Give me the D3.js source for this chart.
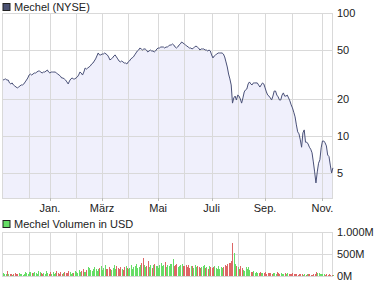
<!DOCTYPE html>
<meta charset="utf-8">
<style>
    body {
        margin: 0;
        background: #fff;
    }
    svg {
        display: block;
        font-family: "Liberation Sans", Arial, sans-serif;
        font-size: 11px;
    }
    .grid line,
    .frame {
        stroke: #d9d9d9;
        shape-rendering: crispEdges;
    }
    .label {
        fill: #222;
    }
</style>

<body>
<div id="chart"></div>
<script src="https://cdnjs.cloudflare.com/ajax/libs/d3/7.8.5/d3.min.js"></script>
<script>
    // daily closes (USD), trading days from mid Nov 2007 to mid Nov 2008
    var prices = [
        28.5, 28.8, 29.1, 28.5, 28.5, 27.0, 26.5, 27.0, 26.0, 25.5,
        25.0, 24.6, 25.0, 25.5, 26.0, 26.0, 26.5, 27.5, 28.5, 29.6,
        31.3, 31.9, 31.3, 31.9, 32.5, 32.5, 33.1, 33.7, 33.7, 33.1,
        32.5, 33.1, 33.1, 33.7, 34.4, 33.1, 32.5, 33.1, 33.1, 33.1,
        33.1, 32.5, 31.9, 31.3, 30.7, 29.6, 29.6, 29.1, 28.5, 27.5,
        26.5, 28.0, 29.1, 29.6, 29.1, 29.1, 29.6, 30.2, 31.3, 33.1,
        32.5, 31.3, 33.1, 35.7, 35.0, 35.7, 36.4, 37.1, 38.5, 39.2,
        40.7, 42.3, 44.7, 47.3, 45.6, 45.6, 46.4, 46.4, 47.3, 46.4,
        45.6, 43.9, 41.5, 42.3, 43.1, 44.7, 45.6, 43.9, 42.3, 40.7,
        40.0, 40.7, 40.0, 39.2, 39.2, 38.5, 40.0, 40.7, 42.3, 43.1,
        43.9, 45.6, 47.3, 49.1, 50.0, 51.9, 51.0, 50.0, 51.0, 51.0,
        50.0, 48.2, 49.1, 50.0, 49.1, 49.1, 48.2, 49.1, 51.0, 51.9,
        51.9, 52.9, 52.9, 52.9, 51.9, 52.9, 52.9, 53.9, 54.9, 54.9,
        56.0, 54.9, 52.9, 51.9, 52.9, 54.9, 56.0, 58.1, 57.1, 56.0,
        54.9, 53.9, 52.9, 51.9, 51.9, 51.0, 51.9, 52.9, 53.9, 52.9,
        51.9, 50.0, 51.0, 51.0, 51.0, 50.0, 50.0, 49.1, 50.0, 49.1,
        45.6, 43.1, 44.7, 45.6, 46.4, 47.3, 47.3, 47.3, 47.3, 46.4,
        43.9, 40.0, 36.4, 31.9, 29.1, 26.0, 18.5, 20.4, 21.1, 19.6,
        21.5, 21.1, 20.0, 18.5, 20.4, 22.8, 23.7, 24.1, 26.5, 27.5,
        26.5, 26.0, 27.0, 27.0, 27.0, 27.0, 26.0, 25.0, 26.0, 27.0,
        26.5, 24.6, 22.8, 21.5, 21.1, 20.4, 19.6, 21.1, 23.2, 23.2,
        21.5, 20.8, 19.6, 19.6, 21.5, 22.4, 21.1, 21.1, 21.5, 20.4,
        19.3, 17.9, 16.9, 15.6, 14.3, 12.3, 10.8, 10.4, 9.3, 8.1,
        10.6, 11.2, 8.9, 8.9, 8.6, 8.1, 7.8, 7.3, 6.15, 5.1,
        4.15, 5.1, 6.0, 6.4, 8.0, 9.1, 9.1, 8.8, 8.3, 7.0,
        6.8, 5.8, 5.0, 5.5
    ];

    // daily volume in million USD
    var volumes = [
        60, 45, 50, 110, 40, 35, 55, 30, 45, 60, 40, 35, 70, 50, 45, 30, 55, 80, 60, 50,
        90, 100, 75, 60, 85, 70, 50, 110, 95, 60, 55, 70, 40, 120, 60, 50, 80, 45, 90, 55,
        70, 105, 60, 45, 80, 50, 65, 95, 70, 60, 120, 85, 50, 75, 60, 110, 90, 65, 130, 100,
        120, 150, 95, 80, 140, 200, 180, 130, 110, 160, 210, 170, 120, 150, 190, 230, 140, 180, 260, 150,
        170, 200, 150, 130, 180, 240, 160, 220, 190, 150, 210, 170, 140, 200, 230, 180, 160, 190, 250, 170,
        200, 230, 280, 180, 210, 250, 300, 420, 260, 200, 230, 350, 210, 240, 190, 250, 280, 220, 230, 190,
        260, 300, 230, 250, 310, 200, 240, 220, 270, 280, 380, 230, 250, 270, 200, 230, 260, 270, 220, 230,
        250, 210, 240, 190, 220, 230, 180, 250, 200, 230, 210, 180, 200, 230, 240, 190, 210, 170, 220, 200,
        180, 210, 220, 190, 160, 230, 170, 200, 180, 210, 250, 230, 270, 290, 300, 330, 760, 520, 270, 220,
        200, 150, 230, 180, 140, 120, 200, 160, 210, 130, 90, 80, 110, 70, 80, 60, 70, 90, 60, 75,
        65, 80, 55, 70, 60, 75, 50, 65, 70, 55, 80, 60, 50, 70, 55, 45, 60, 50, 65, 40,
        55, 45, 60, 35, 50, 40, 30, 45, 50, 35, 25, 40, 30, 45, 35, 55, 30, 25, 40, 45,
        80, 60, 70, 50, 45, 35, 40, 30, 50, 25, 35, 30, 20, 30
    ];

    // first trading day of each month (index into the series)
    var monthStarts = [20, 36, 56, 76, 96, 119, 139, 160, 180, 201, 222, 245];
    var monthLabels = [
        {i: 36, text: "Jan."}, {i: 76, text: "März"}, {i: 119, text: "Mai"},
        {i: 160, text: "Juli"}, {i: 201, text: "Sep."}, {i: 245, text: "Nov."}
    ];
    var priceTicks = [100, 50, 20, 10, 5];
    var volumeTicks = [0, 500, 1000];
    var volumeTickLabels = ["0M", "500M", "1.000M"];

    var width = 375,
        height = 287;

    var svg = d3.select("#chart").append("svg")
        .attr("width", width)
        .attr("height", height);

    var x = d3.scaleLinear()
        .domain([0, prices.length - 1])
        .range([3, 332.9]);

    var y = d3.scaleLog()
        .domain([3.13, 100])
        .range([198, 13]);

    var yVol = d3.scaleLinear()
        .domain([0, 1000])
        .range([276, 232]);

    // ---- price panel ----
    var priceG = svg.append("g");

    priceG.append("rect")
        .attr("x", 3).attr("y", 3.5)
        .attr("width", 7).attr("height", 7)
        .attr("fill", "#4b5273")
        .attr("stroke", "#222");
    priceG.append("text")
        .attr("class", "label")
        .attr("x", 14).attr("y", 11)
        .text("Mechel (NYSE)");

    var area = d3.area()
        .x(function(d, i) { return x(i); })
        .y0(198)
        .y1(function(d) { return y(d); });

    priceG.append("path")
        .datum(prices)
        .attr("fill", "#f0f0fc")
        .attr("d", area);

    var grid = priceG.append("g").attr("class", "grid");
    grid.selectAll(".h")
        .data(priceTicks)
        .enter().append("line")
        .attr("x1", 2).attr("x2", 333)
        .attr("y1", function(d) { return Math.round(y(d)) + 0.5; })
        .attr("y2", function(d) { return Math.round(y(d)) + 0.5; });
    grid.selectAll(".v")
        .data(monthStarts)
        .enter().append("line")
        .attr("x1", function(d) { return Math.round(x(d)) + 0.5; })
        .attr("x2", function(d) { return Math.round(x(d)) + 0.5; })
        .attr("y1", 13).attr("y2", 198);

    priceG.append("rect")
        .attr("class", "frame")
        .attr("x", 2.5).attr("y", 13.5)
        .attr("width", 330).attr("height", 185)
        .attr("fill", "none");

    var line = d3.line()
        .x(function(d, i) { return x(i); })
        .y(function(d) { return y(d); });

    priceG.append("path")
        .datum(prices)
        .attr("fill", "none")
        .attr("stroke", "#4a5178")
        .attr("stroke-width", 1)
        .attr("d", line);

    priceG.selectAll(".ylab")
        .data(priceTicks)
        .enter().append("text")
        .attr("class", "label")
        .attr("x", 337)
        .attr("y", function(d) { return y(d); })
        .attr("dy", "0.36em")
        .text(function(d) { return d; });

    // month ticks and labels
    priceG.selectAll(".tick")
        .data(monthLabels)
        .enter().append("line")
        .attr("stroke", "#bbb")
        .attr("shape-rendering", "crispEdges")
        .attr("x1", function(d) { return Math.round(x(d.i)) + 0.5; })
        .attr("x2", function(d) { return Math.round(x(d.i)) + 0.5; })
        .attr("y1", 198).attr("y2", 201);
    priceG.selectAll(".xlab")
        .data(monthLabels)
        .enter().append("text")
        .attr("class", "label")
        .attr("text-anchor", "middle")
        .attr("x", function(d) { return x(d.i); })
        .attr("y", 212)
        .text(function(d) { return d.text; });

    // ---- volume panel ----
    var volG = svg.append("g");

    volG.append("rect")
        .attr("x", 3).attr("y", 220.5)
        .attr("width", 7).attr("height", 7)
        .attr("fill", "#66dd66")
        .attr("stroke", "#222");
    volG.append("text")
        .attr("class", "label")
        .attr("x", 14).attr("y", 228)
        .text("Mechel Volumen in USD");

    var vgrid = volG.append("g").attr("class", "grid");
    vgrid.selectAll(".h")
        .data(volumeTicks)
        .enter().append("line")
        .attr("x1", 2).attr("x2", 332)
        .attr("y1", function(d) { return Math.round(yVol(d)) + 0.5; })
        .attr("y2", function(d) { return Math.round(yVol(d)) + 0.5; });
    vgrid.selectAll(".v")
        .data(monthStarts)
        .enter().append("line")
        .attr("x1", function(d) { return Math.round(x(d)) + 0.5; })
        .attr("x2", function(d) { return Math.round(x(d)) + 0.5; })
        .attr("y1", 232).attr("y2", 276);

    volG.append("rect")
        .attr("class", "frame")
        .attr("x", 2.5).attr("y", 232.5)
        .attr("width", 330).attr("height", 44)
        .attr("fill", "none");

    // green on up days, red on down days
    volG.selectAll(".bar")
        .data(volumes)
        .enter().append("rect")
        .attr("shape-rendering", "crispEdges")
        .attr("x", function(d, i) { return Math.round(x(i)) - 0.5; })
        .attr("width", 1)
        .attr("y", function(d) { return yVol(d); })
        .attr("height", function(d) { return 276 - yVol(d); })
        .attr("fill", function(d, i) {
            return i > 0 && prices[i] < prices[i - 1] ? "#dd6666" : "#66dd66";
        });

    volG.selectAll(".vlab")
        .data(volumeTicks)
        .enter().append("text")
        .attr("class", "label")
        .attr("x", 337)
        .attr("y", function(d) { return yVol(d); })
        .attr("dy", "0.36em")
        .text(function(d, i) { return volumeTickLabels[i]; });
</script>
</body>

</html>
